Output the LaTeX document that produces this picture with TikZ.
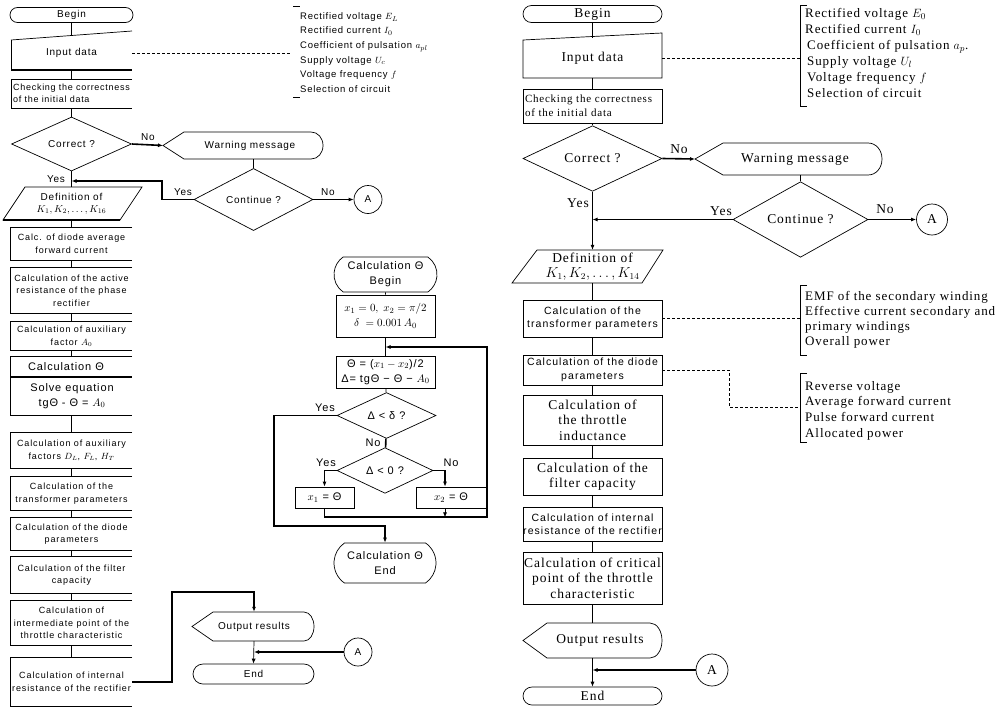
\documentclass[tikz,border=0pt]{standalone}
\usepackage{fontspec}
\setmainfont{Liberation Serif}
\newfontfamily\sansA[LetterSpace=10]{Liberation Sans}
\newfontfamily\sansB[LetterSpace=8]{Liberation Sans}
\newfontfamily\serifA[LetterSpace=7]{Liberation Serif}
\usetikzlibrary{shapes.geometric,shapes.misc,arrows.meta}
\newcommand\openbx[1]{\draw[ln] (#1.north east) -- (#1.north west) -- (#1.south west) -- (#1.south east);}
\begin{document}
\begin{tikzpicture}[x=1pt,y=-1pt,
  ln/.style={line width=0.7pt},
  thk/.style={line width=1.6pt},
  arr/.style={-{Latex[length=5pt,width=4pt]}},
  lsmall/.style={font=\sansA\fontsize{9}{12.5}\selectfont, align=center},
  lhead/.style={font=\sansB\fontsize{10}{12}\selectfont, align=center},
  mid/.style={font=\sansB\fontsize{11}{15}\selectfont, align=center},
  rser/.style={font=\serifA\fontsize{13.5}{15.5}\selectfont, align=center},
  rbr/.style={font=\serifA\fontsize{13}{16}\selectfont, align=left},
  rsmall/.style={font=\sansA\fontsize{10.5}{13.5}\selectfont, align=center},
  term/.style={rounded rectangle, draw, ln, inner sep=0pt},
  dia/.style={diamond, draw, ln, inner sep=0pt},
  circ/.style={circle, draw, ln, inner sep=0pt},
  lbox/.style={lsmall, minimum width=121pt, inner sep=0pt},
  rbox/.style={draw, ln, minimum width=139pt, inner sep=0pt},
  dsh/.style={ln, dash pattern=on 3pt off 2pt}]
\useasboundingbox (0,0) rectangle (1000,707);

% ================= LEFT COLUMN =================
\node[term, lhead, minimum width=123pt, minimum height=15pt] (lb) at (71.5,15) {Begin};
\draw[ln] (11,40) -- (132,31);
\draw[ln] (11,40) -- (11,70);
\draw[line width=1.3pt] (11,70) -- (132,70);
\node[lhead, minimum width=121pt, minimum height=34pt, inner sep=0pt] (linp) at (71.5,53) {Input data};
\draw[ln] (lb) -- (linp);
\coordinate (lbr1) at (290,53);
\draw[dsh] (linp.east) -- (lbr1);
\draw[ln] (293,6) -- (300,6);
\draw[ln] (293,97) -- (300,97);
\node[font=\sansB\fontsize{9.5}{14.6}\selectfont, align=left, anchor=west, inner sep=0pt] (lbt) at (300,52.5)
  {Rectified voltage $E_L$\\Rectified current $I_0$\\Coefficient of pulsation $a_{pl}$\\Supply voltage $U_c$\\Voltage frequency $f$\\Selection of circuit};

\node[font=\sansB\fontsize{9}{12.5}\selectfont, align=left, minimum width=121pt, minimum height=29pt, inner sep=0pt] (lchk) at (71.5,93.5) {Checking the correctness\\of the initial data};
\draw[ln] (132,79) -- (11,79) -- (11,108) -- (132,108);
\draw[ln] (linp) -- (lchk);

\node[dia, lhead, minimum width=120pt, minimum height=54pt] (lcor) at (71.5,144) {Correct ?};
\draw[ln] (lchk) -- (lcor);

\draw[ln] (163,145.5) -- (184,132) -- (311,132) .. controls (318,132) and (323,138) .. (323,145.5) .. controls (323,153) and (318,159) .. (311,159) -- (184,159) -- cycle;
\node[lhead, minimum width=146pt, minimum height=27pt, inner sep=0pt] (lwarn) at (250,145.5) {Warning message};
\coordinate (lwarnp) at (163,145.5);
\draw[thk, arr] (lcor.east) -- (lwarnp);
\node[lhead, inner sep=0pt] (lno1) at (148,137) {No};

\node[dia, lhead, minimum width=119pt, minimum height=55pt] (lcont) at (253.5,199.5) {Continue ?};
\draw[ln] (lcont.north) -- (lcont.north |- lwarn.south);
\node[circ, lhead, minimum size=28pt] (lA) at (368,199.5) {A};
\draw[thk, arr] (lcont.east) -- (lA);
\node[lhead, inner sep=0pt] (lno2) at (328,192) {No};
\coordinate (ljn) at (71.5,181);
\draw[thk, arr] (lcont.west) -- (162,199.5) |- (ljn);
\node[lhead, inner sep=0pt] (lyes2) at (183,192) {Yes};
\node[lhead, inner sep=0pt] (lyes1) at (56,179) {Yes};

\draw[ln] (25,187) -- (142,187) -- (120,220) -- (3,220) -- cycle;
\draw[line width=1.3pt] (3,220) -- (120,220);
\node[lhead, minimum width=117pt, minimum height=33pt, inner sep=0pt] (ldef) at (71.5,203.5) {Definition of\\$K_1, K_2, \ldots, K_{16}$};
\draw[ln] (lcor.south) -- (ldef.north);

\node[lbox, minimum height=32pt] (l1) at (71.5,244) {Calc. of diode average\\forward current};
\openbx{l1}
\node[lbox, minimum height=45pt] (l2) at (71.5,290.5) {Calculation of the active\\resistance of the phase\\rectifier};
\openbx{l2}
\node[lbox, minimum height=28pt] (l3) at (71.5,336) {Calculation of auxiliary\\factor $A_0$};
\openbx{l3}
\node[minimum width=121pt, minimum height=58pt, inner sep=0pt] (lth) at (71.5,386) {};
\draw[line width=1.2pt] (lth.north east) -- (lth.north west) -- (lth.south west) -- (lth.south east);
\draw[line width=1.2pt] (11,377) -- (132,377);
\node[mid, inner sep=0pt] (lthh) at (66,367) {Calculation Θ};
\node[mid, inner sep=0pt] (lthb) at (72,396) {Solve equation\\tgΘ - Θ = $A_0$};
\node[lbox, minimum height=35pt] (l5) at (71.5,450.5) {Calculation of auxiliary\\factors $D_L$, $F_L$, $H_T$};
\openbx{l5}
\node[lbox, minimum height=33pt] (l6) at (71.5,493.5) {Calculation of the\\transformer parameters};
\openbx{l6}
\node[lbox, minimum height=32pt] (l7) at (71.5,534) {Calculation of the diode\\parameters};
\openbx{l7}
\node[lbox, minimum height=36pt] (l8) at (71.5,575) {Calculation of the filter\\capacity};
\openbx{l8}
\node[lbox, minimum height=44pt] (l9) at (71.5,623) {Calculation of\\intermediate point of the\\throttle characteristic};
\openbx{l9}
\node[lbox, minimum height=48pt] (l10) at (71.5,682) {Calculation of internal\\resistance of the rectifier};
\openbx{l10}
\draw[ln] (ldef) -- (l1);
\draw[ln] (l1) -- (l2);
\draw[ln] (l2) -- (l3);
\draw[ln] (l3) -- (lth);
\draw[ln] (lth) -- (l5);
\draw[ln] (l5) -- (l6);
\draw[ln] (l6) -- (l7);
\draw[ln] (l7) -- (l8);
\draw[ln] (l8) -- (l9);
\draw[ln] (l9) -- (l10);

\draw[ln] (192,626.5) -- (213,612) -- (304,612) .. controls (310,612) and (314,619) .. (314,626.5) .. controls (314,634) and (310,641) .. (304,641) -- (213,641) -- cycle;
\node[lhead, minimum width=120pt, minimum height=29pt, inner sep=0pt] (lout) at (254,626.5) {Output results};
\coordinate (lc1) at (254,592);
\draw[thk, arr] (l10.east) -- (172,682) |- (lc1) -- (lout.north);
\node[term, lhead, minimum width=121pt, minimum height=20pt] (lend) at (253.5,674) {End};
\draw[ln, arr] (lout.south) -- (lend.north);
\node[circ, lhead, minimum size=28pt] (lA2) at (358,652) {A};
\coordinate (ljn2) at (254,652);
\draw[thk, arr] (lA2.west) -- (ljn2);

% ================= MIDDLE FLOW =================
\node[term, mid, rounded rectangle arc length=110, minimum width=103pt, minimum height=35pt] (mcb) at (385.5,274.5) {Calculation Θ\\Begin};
\node[draw, ln, mid, minimum width=99pt, minimum height=42pt, inner sep=0pt] (mb1) at (385.5,316) {$x_1 = 0,\; x_2 = \pi/2$\\$\delta\; = 0.001\,A_0$};
\node[draw, ln, mid, minimum width=99pt, minimum height=32pt, inner sep=0pt] (mb2) at (385.5,372) {Θ = ($x_1 - x_2$)/2\\Δ= tgΘ − Θ − $A_0$};
\node[dia, mid, minimum width=99pt, minimum height=35pt] (md1) at (386.5,415.5) {Δ < δ ?};
\node[dia, mid, minimum width=96pt, minimum height=37pt] (md2) at (385,470.5) {Δ < 0 ?};
\node[draw, ln, mid, minimum width=59pt, minimum height=21pt, inner sep=0pt] (mx1) at (324.5,497.5) {$x_1$ = Θ};
\node[draw, ln, mid, minimum width=70pt, minimum height=21pt, inner sep=0pt] (mx2) at (451,497.5) {$x_2$ = Θ};
\node[term, mid, rounded rectangle arc length=110, minimum width=102pt, minimum height=40pt] (mce) at (385,563) {Calculation Θ\\End};
\draw[ln] (mcb) -- (mb1);
\draw[ln] (mb1) -- (mb2);
\draw[ln] (mb2) -- (md1);
\draw[thk] (md1) -- (md2);
\node[mid, inner sep=0pt] (mno1) at (373,443) {No};
\draw[thk, arr] (md2.west) -| (mx1.north);
\draw[thk, arr] (md2.east) -| ([xshift=-6pt]mx2.north);
\node[mid, inner sep=0pt] (myes2) at (326,463) {Yes};
\node[mid, inner sep=0pt] (mno2) at (451,463) {No};
\coordinate (mloop) at (385.5,347);
\draw[thk, arr] (mx1.south) |- (487,517) |- (mloop);
\draw[ln, arr] ([xshift=-6pt]mx2.south) -- ++(0,9);
\coordinate (mjn) at (385,526);
\draw[thk, arr] (md1.west) -- (274,415.5) |- (mjn) -- (mce.north);
\node[mid, inner sep=0pt] (myes1) at (325,408) {Yes};

% ================= RIGHT COLUMN =================
\node[term, rser, minimum width=139pt, minimum height=17pt] (rb) at (592.5,14) {Begin};
\draw[ln] (523,40) -- (662,33) -- (662,78) -- (523,78) -- cycle;
\node[rser, minimum width=139pt, minimum height=40pt, inner sep=0pt] (rinp) at (592.5,58) {Input data};
\draw[ln] (rb) -- (rinp);
\coordinate (rbr1) at (800,58);
\draw[dsh] (rinp.east) -- (rbr1);
\draw[ln] (807,5) -- (800,5) -- (800,106) -- (807,106);
\node[rbr, anchor=west, inner sep=0pt] (rbt1) at (805,53)
  {Rectified voltage $E_0$\\Rectified current $I_0$\\\hspace*{2pt}Coefficient of pulsation $a_p$.\\\hspace*{2pt}Supply voltage $U_l$\\\hspace*{2pt}Voltage frequency $f$\\\hspace*{2pt}Selection of circuit};

\node[rbox, font=\serifA\fontsize{11}{14}\selectfont, align=left, text width=135pt, minimum height=34pt] (rchk) at (592.5,106) {Checking the correctness\\of the initial data};
\draw[ln] (rinp) -- (rchk);
\node[dia, rser, minimum width=139pt, minimum height=62pt] (rcor) at (592.5,158.5) {Correct ?};
\draw[ln] (rchk) -- (rcor);

\draw[ln] (695,159) -- (723,143) -- (868,143) .. controls (876,143) and (882,150) .. (882,159) .. controls (882,168) and (876,175) .. (868,175) -- (723,175) -- cycle;
\node[rser, minimum width=174pt, minimum height=32pt, inner sep=0pt] (rwarn) at (795,159) {Warning message};
\coordinate (rwarnp) at (695,159);
\draw[thk, arr] (rcor.east) -- (rwarnp);
\node[rser, inner sep=0pt] (rno1) at (679,149) {No};

\node[dia, rser, minimum width=135pt, minimum height=61pt] (rcont) at (800.5,219.5) {Continue ?};
\draw[ln] (rcont.north) -- (rcont.north |- rwarn.south);
\node[circ, rser, minimum size=31pt] (rA) at (932,219.5) {A};
\draw[thk, arr] (rcont.east) -- (rA);
\node[rser, inner sep=0pt] (rno2) at (885,209) {No};
\coordinate (rjn) at (592.5,219.5);
\draw[thk, arr] (rcont.west) -- (rjn);
\node[rser, inner sep=0pt] (ryes2) at (721,211) {Yes};
\node[rser, inner sep=0pt] (ryes1) at (578,203) {Yes};

\draw[ln] (537,250) -- (663,250) -- (642,283) -- (512,283) -- cycle;
\node[rser, minimum width=120pt, minimum height=33pt, inner sep=0pt] (rdef) at (592.5,266.5) {Definition of\\$K_1, K_2, \ldots, K_{14}$};
\draw[ln, arr] (rcor.south) -- (rdef.north);

\node[rbox, rsmall, minimum height=37pt] (rtr) at (592.5,318.5) {Calculation of the\\transformer parameters};
\node[rbox, rsmall, minimum height=30pt] (rdi) at (592.5,370) {Calculation of the diode\\parameters};
\node[rbox, rser, minimum height=50pt] (rth) at (592.5,420) {Calculation of\\the throttle\\inductance};
\node[rbox, rser, minimum height=37pt] (rfi) at (592.5,476.5) {Calculation of the\\filter capacity};
\node[rbox, rsmall, minimum height=34pt] (rin) at (592.5,524) {Calculation of internal\\resistance of the rectifier};
\node[rbox, rser, minimum height=52pt] (rcr) at (592.5,578) {Calculation of critical\\point of the throttle\\characteristic};
\draw[ln] (rdef) -- (rtr);
\draw[ln] (rtr) -- (rdi);
\draw[ln] (rdi) -- (rth);
\draw[ln] (rth) -- (rfi);
\draw[ln] (rfi) -- (rin);
\draw[ln] (rin) -- (rcr);

\coordinate (rbr2) at (800,318.5);
\draw[dsh] (rtr.east) -- (rbr2);
\draw[ln] (807,285) -- (800,285) -- (800,355) -- (807,355);
\node[rbr, anchor=west, inner sep=0pt, font=\serifA\fontsize{13}{15}\selectfont] (rbt2) at (805,319.5)
  {EMF of the secondary winding\\Effective current secondary and\\primary windings\\Overall power};

\coordinate (rbr3) at (800,407);
\draw[dsh] (rdi.east) -- (729,370) -- (729,407) -- (rbr3);
\draw[ln] (807,373) -- (800,373) -- (800,442) -- (807,442);
\node[rbr, anchor=west, inner sep=0pt, font=\serifA\fontsize{13}{15.7}\selectfont] (rbt3) at (805,410.5)
  {Reverse voltage\\Average forward current\\Pulse forward current\\Allocated power};

\draw[ln] (523,640.5) -- (547,623) -- (650,623) .. controls (657,623) and (662,631) .. (662,640.5) .. controls (662,650) and (657,658) .. (650,658) -- (547,658) -- cycle;
\node[rser, minimum width=124pt, minimum height=35pt, inner sep=0pt] (rout) at (600,640.5) {Output results};
\draw[ln] (rcr.south) -- (rcr.south |- rout.north);
\node[term, rser, minimum width=139pt, minimum height=18pt] (rend) at (592.5,696) {End};
\draw[ln, arr] (rend.north |- rout.south) -- (rend.north);
\node[circ, rser, minimum size=32pt] (rA2) at (712,670) {A};
\coordinate (rjn2) at (592.5,670);
\draw[thk, arr] (rA2.west) -- (rjn2);
\end{tikzpicture}
\end{document}
